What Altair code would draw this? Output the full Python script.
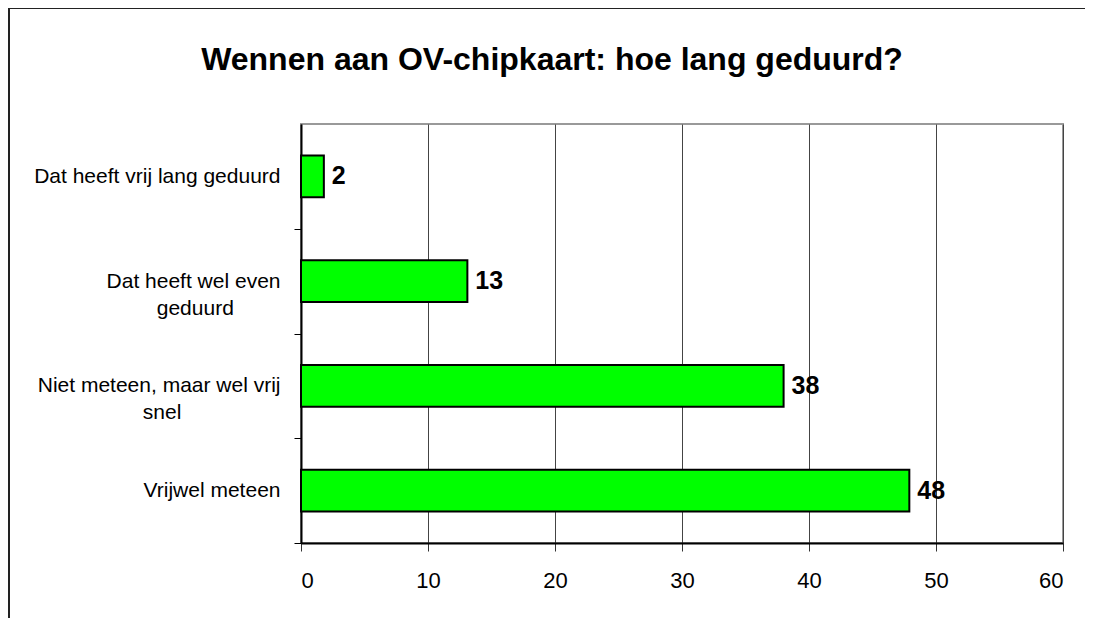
import json
import altair as alt
import pandas as pd

# ---- data ----
categories = [
    "Dat heeft vrij lang geduurd",
    "Dat heeft wel even geduurd",
    "Niet meteen, maar wel vrij snel",
    "Vrijwel meteen",
]
values = [1.8, 13.1, 38.0, 47.9]
label_lines = [
    ["Dat heeft vrij lang geduurd"],
    ["Dat heeft wel even", "geduurd"],
    ["Niet meteen, maar wel vrij", "snel"],
    ["Vrijwel meteen"],
]
label_pad = [0, 8, 17, 0]  # non-breaking spaces to centre the second line
x_ticks = [0, 10, 20, 30, 40, 50, 60]
title_text = "Wennen aan OV-chipkaart: hoe lang geduurd?"

FONT = "Liberation Sans Narrow, Arial Narrow, Liberation Sans, Arial, sans-serif"
NB = "\u00a0"
ZW = "\u200b"  # keeps the padding from being trimmed

df = pd.DataFrame({"cat": categories, "val": values})

# label expression for multi-line axis labels
expr = "''"
for cat, lines, pad in reversed(list(zip(categories, label_lines, label_pad))):
    shown = [lines[0]] + [l + NB * pad + ZW for l in lines[1:]]
    expr = f"datum.value == {json.dumps(cat)} ? {json.dumps(shown)} : ({expr})"

W, H = 762, 419
PL, PT = 293, 116
STEP = H / 4.0

y_enc = alt.Y(
    "cat:N",
    sort=categories,
    scale=alt.Scale(paddingInner=0.6, paddingOuter=0.3),
    axis=alt.Axis(
        title=None,
        labelExpr=expr,
        labelFont=FONT,
        labelFontSize=21,
        labelColor="black",
        labelLineHeight=27,
        labelPadding=14,
        labelLimit=400,
        tickOffset=STEP / 2,
        labelOffset=-STEP / 2,
        tickSize=7,
        tickWidth=1,
        tickColor="black",
        domainColor="black",
        domainWidth=2,
        grid=False,
    ),
)

x_enc = alt.X(
    "val:Q",
    scale=alt.Scale(domain=[0, 60], nice=False),
    axis=alt.Axis(
        title=None,
        values=x_ticks,
        labelFont=FONT,
        labelFontSize=22,
        labelColor="black",
        labelPadding=19,
        tickSize=8,
        tickColor="#333",
        domainColor="black",
        domainWidth=2,
        grid=True,
        gridColor="#444",
        gridWidth=1,
    ),
)

base = alt.Chart(df)

bars = base.mark_bar(fill="#00FF00", stroke="black", strokeWidth=2).encode(
    x=x_enc, y=y_enc
)

labels = base.mark_text(
    align="left", baseline="middle", dx=8, font=FONT, fontSize=25,
    fontWeight="bold", color="black",
).encode(
    x="val:Q",
    y=alt.Y("cat:N", sort=categories),
    text=alt.Text("val:Q", format=".0f"),
)

one = alt.Chart(pd.DataFrame({"t": [title_text]}))

title = one.mark_text(
    align="center", baseline="alphabetic", font=FONT, fontSize=32,
    fontWeight="bold", color="black",
).encode(
    x=alt.value(552 - 301),
    y=alt.value(70 - 124),
    text="t:N",
)

frame_left = one.mark_rule(color="#222", strokeWidth=2).encode(
    x=alt.value(9 - 301), y=alt.value(8 - 124), y2=alt.value(H + 200)
)
frame_top = one.mark_rule(color="#222", strokeWidth=2).encode(
    x=alt.value(9 - 301), x2=alt.value(W + 200), y=alt.value(8 - 124)
)

chart = alt.layer(frame_left, frame_top, bars, labels, title).properties(
    width=W,
    height=H,
    autosize=alt.AutoSizeParams(type="none"),
    padding={"left": PL, "top": PT, "right": 22, "bottom": 75},
    background="white",
).configure_view(
    stroke="#999", strokeWidth=2
)

chart.save("out.html", embed_options={"renderer": "svg", "actions": False})
